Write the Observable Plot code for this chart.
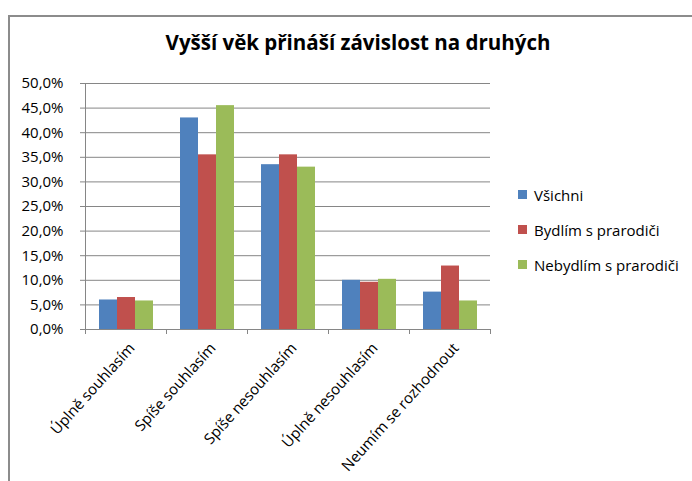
<!DOCTYPE html>
<html><head><meta charset="utf-8">
<script src="https://cdn.jsdelivr.net/npm/d3@7"></script>
<script src="https://cdn.jsdelivr.net/npm/@observablehq/plot@0.6"></script>
<style>
body{margin:0;background:#fff}
#wrap{position:relative;width:692px;height:481px;overflow:hidden;background:#fff;font-family:"Open Sans",sans-serif;color:#000}
#border{position:absolute;left:8px;top:15px;width:720px;height:520px;border:2px solid #8c8c8c;box-sizing:border-box}
#title{position:absolute;left:0;width:716px;top:29px;text-align:center;font-weight:bold;font-size:20.5px;line-height:26px;white-space:nowrap}
#chart{position:absolute;left:0;top:0}
#legend{position:absolute;left:518px;top:177px;font-size:15px}
.item{display:flex;align-items:center;height:35px;white-space:nowrap}
.sw{width:9px;height:9px;margin-right:7px;flex:none}
</style></head>
<body><div id="wrap"><div id="border"></div><div id="title"></div><div id="chart"></div><div id="legend"></div></div>
<script>
const titleText = "Vyšší věk přináší závislost na druhých";
const categories = ["Úplně souhlasím", "Spíše souhlasím", "Spíše nesouhlasím", "Úplně nesouhlasím", "Neumím se rozhodnout"];
const seriesNames = ["Všichni", "Bydlím s prarodiči", "Nebydlím s prarodiči"];
const vsichni = [6.0, 43.0, 33.5, 10.0, 7.6];
const bydlim = [6.5, 35.5, 35.5, 9.6, 12.9];
const nebydlim = [5.8, 45.5, 33.0, 10.2, 5.8];
const yTicks = [0, 5, 10, 15, 20, 25, 30, 35, 40, 45, 50];
const colors = ["#4F81BD", "#C0504D", "#9BBB59"];

const seriesValues = [vsichni, bydlim, nebydlim];
const table = [];
categories.forEach((c, i) => seriesNames.forEach((s, j) => table.push({category: c, series: s, value: seriesValues[j][i]})));

const axisColor = "#868686";
const fmt = d => d.toFixed(1).replace(".", ",") + "%";

const chart = Plot.plot({
  width: 692, height: 481,
  marginTop: 83, marginLeft: 83, marginRight: 201, marginBottom: 152,
  style: {fontFamily: '"Open Sans", sans-serif', fontSize: "15px", color: "#000", background: "transparent"},
  fx: {domain: categories, padding: 0, axis: null},
  x: {domain: seriesNames, paddingInner: 0, paddingOuter: 0.73, axis: null},
  y: {domain: [0, 50], axis: null},
  color: {domain: seriesNames, range: colors},
  marks: [
    Plot.gridY(yTicks, {stroke: axisColor, strokeOpacity: 1}),
    Plot.axisY(yTicks, {tickSize: 5, tickPadding: 17, tickFormat: fmt, stroke: axisColor, fill: "#000", label: null}),
    Plot.barY(table, {fx: "category", x: "series", y: "value", fill: "series"}),
    Plot.ruleY([0], {stroke: axisColor}),
    Plot.frame({anchor: "left", facet: "super", stroke: axisColor, insetBottom: -4}),
    Plot.frame({anchor: "left", stroke: axisColor, insetTop: 246, insetBottom: -4}),
    Plot.frame({anchor: "right", stroke: axisColor, insetTop: 246, insetBottom: -4}),
    Plot.text(categories, {fx: d => d, frameAnchor: "bottom", rotate: -48, textAnchor: "end", lineAnchor: "middle", dx: 6, dy: 16, fill: "#000"})
  ]
});
document.getElementById("chart").appendChild(chart);
document.getElementById("title").textContent = titleText;
const leg = document.getElementById("legend");
seriesNames.forEach((s, i) => {
  const it = document.createElement("div"); it.className = "item";
  const sw = document.createElement("span"); sw.className = "sw"; sw.style.background = colors[i];
  const tx = document.createElement("span"); tx.textContent = s;
  it.appendChild(sw); it.appendChild(tx); leg.appendChild(it);
});
</script></body></html>
